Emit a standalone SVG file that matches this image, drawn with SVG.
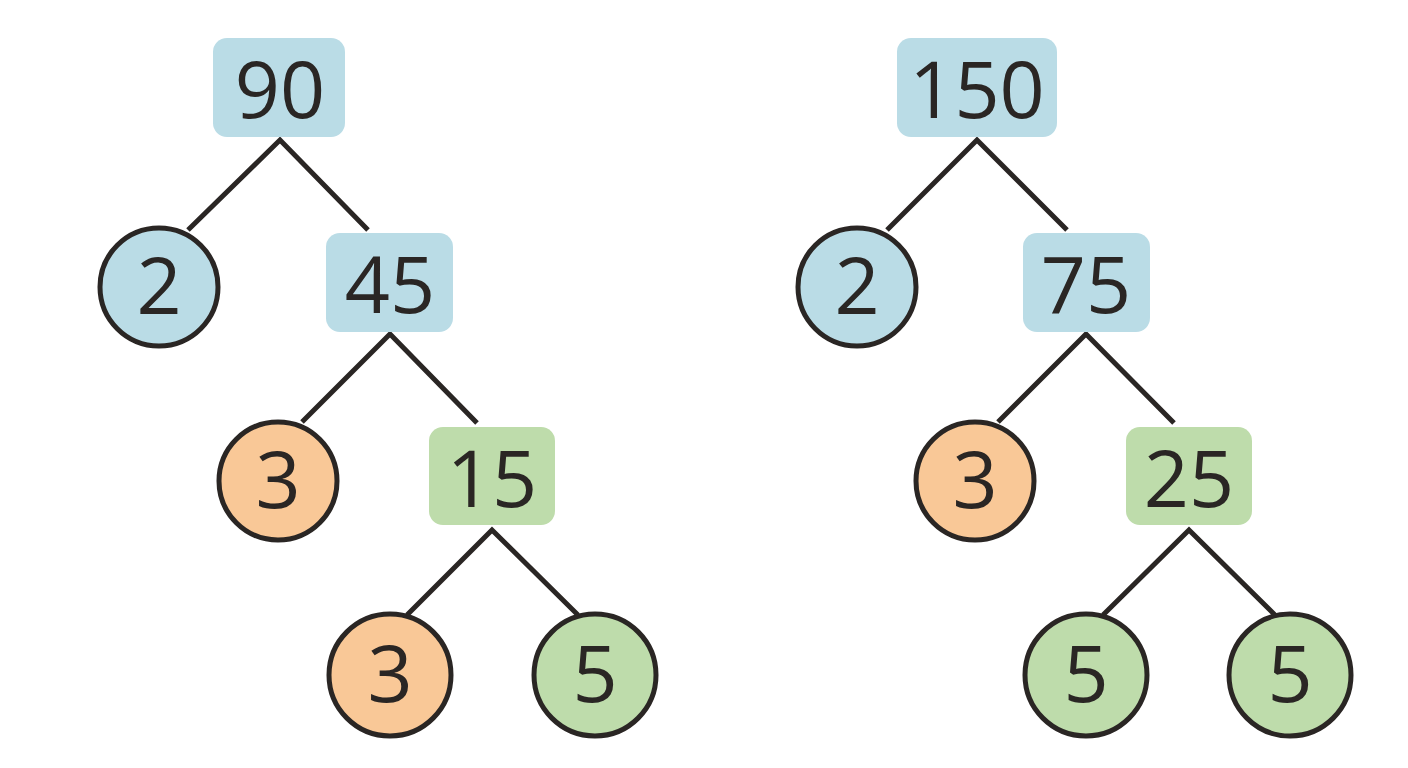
<svg xmlns="http://www.w3.org/2000/svg" width="1408" height="768" viewBox="0 0 1408 768">
<style>
.blue{fill:#badce6}
.orange{fill:#f9c897}
.green{fill:#bedcab}
.circ{stroke:#2a2624;stroke-width:5}
.t{font-family:"Open Sans","Noto Sans",sans-serif;font-size:79px;fill:#2a2624;text-anchor:middle}
.edge{stroke:#2a2624;stroke-width:5;fill:none;stroke-linecap:butt;stroke-linejoin:miter}
</style>
<rect width="1408" height="768" fill="#ffffff"/>
<g id="connectors">
<path class="edge" d="M188 230 L280 140 L368 230"/>
<path class="edge" d="M302 422 L390 334 L477 423"/>
<path class="edge" d="M407 615 L492 530 L578 615"/>
<path class="edge" d="M887 230 L977 140 L1067 230"/>
<path class="edge" d="M998 422 L1086 334 L1174 423"/>
<path class="edge" d="M1103 615 L1189 530 L1275 615"/>
</g>
<g id="n90"><rect class="blue" x="213" y="38" width="132" height="99" rx="14"/><text class="t" x="280" y="118">90</text></g>
<g id="n2a"><circle class="blue circ" cx="159" cy="287" r="59"/><text class="t" x="159" y="314">2</text></g>
<g id="n45"><rect class="blue" x="326" y="233" width="127" height="99" rx="14"/><text class="t" x="390" y="313">45</text></g>
<g id="n3a"><circle class="orange circ" cx="278" cy="481" r="59"/><text class="t" x="278" y="508">3</text></g>
<g id="n15"><rect class="green" x="429" y="427" width="126" height="98" rx="14"/><text class="t" x="492" y="507">15</text></g>
<g id="n3b"><circle class="orange circ" cx="390" cy="675" r="61"/><text class="t" x="390" y="702">3</text></g>
<g id="n5a"><circle class="green circ" cx="595" cy="675" r="61"/><text class="t" x="595" y="702">5</text></g>
<g id="n150"><rect class="blue" x="897" y="38" width="160" height="99" rx="14"/><text class="t" x="977" y="118">150</text></g>
<g id="n2b"><circle class="blue circ" cx="857" cy="287" r="59"/><text class="t" x="857" y="314">2</text></g>
<g id="n75"><rect class="blue" x="1023" y="233" width="127" height="99" rx="14"/><text class="t" x="1086" y="313">75</text></g>
<g id="n3c"><circle class="orange circ" cx="975" cy="481" r="59"/><text class="t" x="975" y="508">3</text></g>
<g id="n25"><rect class="green" x="1126" y="427" width="126" height="98" rx="14"/><text class="t" x="1189" y="507">25</text></g>
<g id="n5b"><circle class="green circ" cx="1086" cy="675" r="61"/><text class="t" x="1086" y="702">5</text></g>
<g id="n5c"><circle class="green circ" cx="1290" cy="675" r="61"/><text class="t" x="1290" y="702">5</text></g>
</svg>
